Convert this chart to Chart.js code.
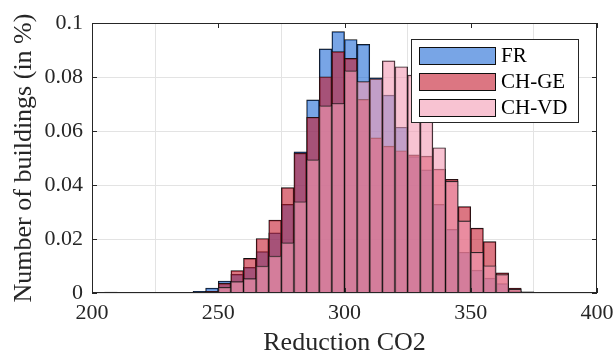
<!DOCTYPE html>
<html>
<head>
<meta charset="utf-8">
<script src="https://cdn.jsdelivr.net/npm/chart.js@4.4.1/dist/chart.umd.min.js"></script>
<style>
  html, body { margin: 0; padding: 0; background: #ffffff; }
  #wrap { width: 613px; height: 354px; }
</style>
</head>
<body>
<div id="wrap"><canvas id="c" width="613" height="354"></canvas></div>
<script>
// ---- data (bin width 5) ----
const binCenters = [202.5, 207.5, 212.5, 217.5, 222.5, 227.5, 232.5, 237.5, 242.5, 247.5,
                    252.5, 257.5, 262.5, 267.5, 272.5, 277.5, 282.5, 287.5, 292.5, 297.5,
                    302.5, 307.5, 312.5, 317.5, 322.5, 327.5, 332.5, 337.5, 342.5, 347.5,
                    352.5, 357.5, 362.5, 367.5, 372.5];
const frValues = [0, 0.0003, 0, 0, 0, 0, 0.0002, 0.0002, 0.0006, 0.0018,
                  0.0044, 0.0069, 0.0095, 0.0153, 0.0223, 0.0328, 0.0523, 0.0715, 0.0904, 0.0968,
                  0.0939, 0.0921, 0.0797, 0.0733, 0.0614, 0.0505, 0.0456, 0.0328, 0.0236, 0.0151,
                  0.0085, 0.0055, 0.0035, 0.0006, 0.0002];
const geValues = [0, 0, 0, 0, 0, 0, 0, 0, 0.0002, 0.0006,
                  0.0036, 0.0083, 0.0128, 0.0202, 0.0270, 0.0390, 0.0518, 0.0651, 0.0801, 0.0894,
                  0.0869, 0.0717, 0.0575, 0.0544, 0.0527, 0.0512, 0.0507, 0.0459, 0.0421, 0.0320,
                  0.0240, 0.0190, 0.0075, 0.0018, 0.0004];
const vdValues = [0, 0, 0, 0, 0, 0, 0, 0.0001, 0.0002, 0.0004,
                  0.0021, 0.0042, 0.0053, 0.0100, 0.0137, 0.0186, 0.0338, 0.0493, 0.0693, 0.0702,
                  0.0823, 0.0783, 0.0793, 0.0860, 0.0838, 0.0807, 0.0700, 0.0538, 0.0414, 0.0267,
                  0.0151, 0.0101, 0.0068, 0.0014, 0.0003];
const seriesLabels = ['FR', 'CH-GE', 'CH-VD'];
const xTickValues = [200, 250, 300, 350, 400];
const xTickLabels = ['200', '250', '300', '350', '400'];
const yTickValues = [0, 0.02, 0.04, 0.06, 0.08, 0.1];
const yTickLabels = ['0', '0.02', '0.04', '0.06', '0.08', '0.1'];
const xTitle = 'Reduction CO2';
const yTitle = 'Number of buildings (in %)';

// ---- styles ----
const fills = ['rgba(30,105,213,0.6)', 'rgba(197,27,47,0.6)', 'rgba(243,155,180,0.6)'];
const edge = 'rgba(15,15,15,1)';
const axisColor = '#262626';
const serif = '"Liberation Serif", "DejaVu Serif", serif';

const toPoints = vals => binCenters.map((x, i) => ({x: x, y: vals[i]}));

const frameAndLegend = {
  id: 'frameAndLegend',
  afterDraw(chart) {
    const {ctx, chartArea: a, scales} = chart;
    ctx.save();
    ctx.strokeStyle = axisColor;
    ctx.lineWidth = 1;
    ctx.strokeRect(Math.round(a.left) + 0.5, Math.round(a.top) + 0.5,
                   Math.round(a.right - a.left) - 1, Math.round(a.bottom - a.top) - 1);
    const tl = 5;
    ctx.beginPath();
    xTickValues.forEach(v => {
      const px = Math.round(scales.x.getPixelForValue(v)) + 0.5;
      ctx.moveTo(px, a.bottom); ctx.lineTo(px, a.bottom - tl);
      ctx.moveTo(px, a.top); ctx.lineTo(px, a.top + tl);
    });
    yTickValues.forEach(v => {
      const py = Math.round(scales.y.getPixelForValue(v)) + 0.5;
      ctx.moveTo(a.left, py); ctx.lineTo(a.left + tl, py);
      ctx.moveTo(a.right, py); ctx.lineTo(a.right - tl, py);
    });
    ctx.stroke();

    // legend box
    const bx = 411.5, by = 39.5, bw = 167, bh = 83;
    ctx.fillStyle = '#ffffff';
    ctx.fillRect(bx, by, bw, bh);
    ctx.strokeStyle = axisColor;
    ctx.strokeRect(bx, by, bw, bh);
    ctx.font = '21px ' + serif;
    ctx.textBaseline = 'middle';
    ctx.textAlign = 'left';
    const rows = [47.5, 73.5, 99.5];
    seriesLabels.forEach((lab, i) => {
      const sy = rows[i];
      ctx.fillStyle = '#ffffff';
      ctx.fillRect(419.5, sy, 76, 17);
      ctx.fillStyle = fills[i];
      ctx.fillRect(419.5, sy, 76, 17);
      ctx.strokeStyle = edge;
      ctx.lineWidth = 1;
      ctx.strokeRect(419.5, sy, 76, 17);
      ctx.fillStyle = '#000000';
      ctx.fillText(lab, 501, sy + 9);
    });
    ctx.restore();
  }
};

new Chart(document.getElementById('c'), {
  type: 'bar',
  data: {
    datasets: [
      {label: seriesLabels[0], data: toPoints(frValues), backgroundColor: fills[0], borderColor: edge, borderWidth: 0.8, order: 3},
      {label: seriesLabels[1], data: toPoints(geValues), backgroundColor: fills[1], borderColor: edge, borderWidth: 0.8, order: 2},
      {label: seriesLabels[2], data: toPoints(vdValues), backgroundColor: fills[2], borderColor: edge, borderWidth: 0.8, order: 1}
    ]
  },
  options: {
    responsive: false,
    animation: false,
    layout: {padding: {left: 0, right: 16, top: 23, bottom: 0}},
    datasets: {bar: {grouped: false, barPercentage: 1.0, categoryPercentage: 1.0}},
    plugins: {legend: {display: false}, tooltip: {enabled: false}},
    scales: {
      x: {
        type: 'linear', min: 200, max: 400, offset: false,
        afterBuildTicks: s => { s.ticks = xTickValues.map(v => ({value: v})); },
        afterFit: s => { s.height = 61; s.paddingLeft = 0; s.paddingRight = 0; },
        ticks: {
          callback: (v) => xTickLabels[xTickValues.indexOf(v)],
          font: {family: serif, size: 22}, color: axisColor, padding: 7, maxRotation: 0, autoSkip: false
        },
        grid: {color: '#e3e3e3', drawTicks: false},
        border: {display: false},
        title: {display: true, text: xTitle, font: {family: serif, size: 26, lineHeight: 0.85}, color: axisColor, padding: {top: 0, bottom: 0}}
      },
      y: {
        min: 0, max: 0.1,
        afterBuildTicks: s => { s.ticks = yTickValues.map(v => ({value: v})); },
        afterFit: s => { s.width = 92; s.paddingTop = 0; s.paddingBottom = 0; },
        ticks: {
          callback: (v) => yTickLabels[yTickValues.findIndex(t => Math.abs(t - v) < 1e-9)],
          font: {family: serif, size: 22}, color: axisColor, padding: 9
        },
        grid: {color: '#e3e3e3', drawTicks: false},
        border: {display: false},
        title: {display: true, text: yTitle, font: {family: serif, size: 26, lineHeight: 1.0}, color: axisColor, padding: {top: 11, bottom: 0}}
      }
    }
  },
  plugins: [frameAndLegend]
});
</script>
</body>
</html>
